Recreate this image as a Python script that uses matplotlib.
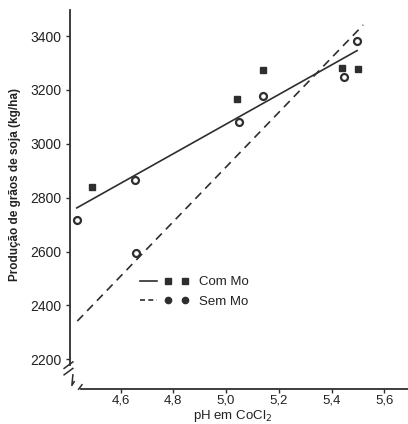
import matplotlib.pyplot as plt
from matplotlib.lines import Line2D
from matplotlib.legend_handler import HandlerTuple

# Com Mo (squares)
com_x = [4.49, 5.04, 5.14, 5.44, 5.50]
com_y = [2840, 3167, 3274, 3282, 3277]
# Sem Mo (circles)
sem_x = [4.436, 4.655, 4.657, 5.05, 5.14, 5.447, 5.497]
sem_y = [2716, 2864, 2595, 3082, 3179, 3248, 3381]

# fitted lines (end points)
com_fit_x = [4.434, 5.497]
com_fit_y = [2762, 3346]
sem_fit_x = [4.436, 5.52]
sem_fit_y = [2342, 3441]

xticks = [4.6, 4.8, 5.0, 5.2, 5.4, 5.6]
xtick_labels = ['4,6', '4,8', '5,0', '5,2', '5,4', '5,6']
yticks = [2200, 2400, 2600, 2800, 3000, 3200, 3400]

c = '#2e2e2e'
plt.rcParams['font.family'] = 'Liberation Sans'

fig = plt.figure(figsize=(4.08, 4.24), dpi=100)
ax = fig.add_axes([0.172, 0.082, 0.828, 0.894])

ax.plot(com_fit_x, com_fit_y, color=c, lw=1.2)
ax.plot(sem_fit_x, sem_fit_y, color=c, lw=1.2, dashes=(5, 3.5))
ax.plot(com_x, com_y, 's', color=c, ms=4.5, ls='none')
ax.plot(sem_x, sem_y, 'o', mfc='white', mec=c, mew=1.6, ms=5, ls='none')

ax.set_xlim(4.409, 5.69)
ax.set_ylim(2089, 3496)
ax.set_xticks(xticks)
ax.set_xticklabels(xtick_labels)
ax.set_yticks(yticks)

for s in ['top', 'right']:
    ax.spines[s].set_visible(False)
ax.spines['left'].set_bounds(2180, 3496)
ax.spines['bottom'].set_bounds(4.45, 5.69)
ax.spines['left'].set_color(c)
ax.spines['bottom'].set_color(c)
ax.spines['left'].set_linewidth(1.3)
ax.spines['bottom'].set_linewidth(1.3)
ax.tick_params(colors=c, labelcolor='#222222', labelsize=10, length=3, width=1)
ax.tick_params(axis='x', pad=1, labelsize=9.5)

# axis break marks
kw = dict(transform=ax.transAxes, color=c, lw=1.1, clip_on=False)
ax.plot([-0.018, 0.008], [0.055, 0.072], **kw)
ax.plot([-0.018, 0.008], [0.038, 0.055], **kw)
ax.plot([0.008, 0.005, 0.012], [0.038, 0.01, 0.02], **kw)
ax.plot([0.025, 0.035], [0.0, 0.012], **kw)

ax.set_xlabel('pH em CoCl$_2$', fontsize=9.5, color='#222222')
ax.xaxis.set_label_coords(0.48, -0.05)
ax.set_ylabel('Produção de grãos de soja (kg/ha)', fontsize=8.5,
              fontweight='bold', color='#222222')
ax.yaxis.set_label_coords(-0.145, 0.54)

h1 = (Line2D([], [], color=c, lw=1.2),
      Line2D([], [], marker='s', color=c, ms=4, ls='none'))
h2 = (Line2D([], [], color=c, lw=1.2, dashes=(3, 2)),
      Line2D([], [], marker='o', color=c, ms=4.5, ls='none'))
ax.legend([h1, h2], ['Com Mo', 'Sem Mo'],
          handler_map={tuple: HandlerTuple(ndivide=None, pad=0.2)},
          numpoints=2, handlelength=4.0, frameon=False, fontsize=9.5,
          loc='upper left', bbox_to_anchor=(0.16, 0.33), labelspacing=0.55,
          handletextpad=0.8, labelcolor='#222222')

fig.savefig('out.png', dpi=100)
